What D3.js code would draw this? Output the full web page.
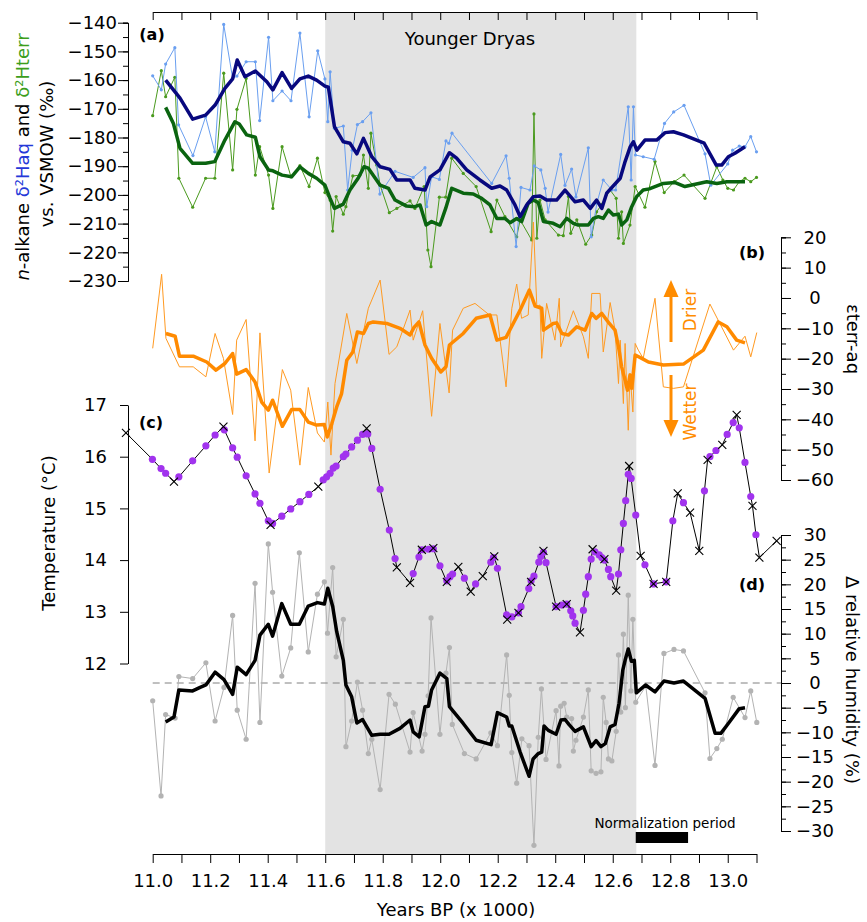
<!DOCTYPE html>
<meta charset="utf-8">
<style>
body { margin: 0; background: #fff; }
svg text { font-family: "DejaVu Sans", sans-serif; fill: #000; }
.tick text { font-size: 18px; }
.domain, .tick line { stroke: #000; stroke-width: 1; }
</style>
<svg width="867" height="922"></svg>
<script src="https://d3js.org/d3.v7.min.js"></script>
<script>

// ---- data: [year BP x1000, value] ----

// (a) n-alkane dD aquatic, raw and smoothed (permil)
var aqRaw = [[11.00,-158.5],[11.03,-163.4],[11.045,-154.4],[11.077,-148.7],[11.09,-175.6],[11.14,-186.3],[11.184,-172.8],[11.216,-185],[11.247,-140.6],[11.278,-159.4],[11.293,-158.6],[11.325,-153.6],[11.357,-153.6],[11.372,-174.1],[11.403,-145.1],[11.418,-167.2],[11.45,-163.8],[11.481,-167.2],[11.512,-143.6],[11.544,-172.8],[11.574,-149.8],[11.599,-159.6],[11.609,-174.5],[11.617,-157.1],[11.632,-176.8],[11.663,-176],[11.678,-198.3],[11.694,-184.4],[11.712,-175.5],[11.73,-174.5],[11.759,-171.4],[11.79,-199.7],[11.843,-191.8],[11.906,-193.9],[11.947,-190.5],[11.953,-204.1],[11.97,-193.7],[11.997,-194.6],[12.02,-181.2],[12.03,-182],[12.041,-178.5],[12.179,-196],[12.229,-186.4],[12.24,-194.2],[12.264,-218],[12.281,-197.4],[12.312,-198.3],[12.327,-189.9],[12.35,-191.3],[12.365,-197.7],[12.375,-206],[12.419,-185.9],[12.434,-196.7],[12.457,-191],[12.472,-200.7],[12.515,-183.6],[12.525,-214.6],[12.545,-202.8],[12.567,-194.8],[12.597,-198.3],[12.61,-198.3],[12.654,-169.3],[12.664,-194.8],[12.672,-169.3],[12.679,-186.1],[12.706,-186.7],[12.744,-187.6],[12.78,-175.1],[12.812,-171.1],[12.848,-168.8],[12.921,-185.7],[12.941,-196.6],[13.0,-189.2],[13.017,-184.4],[13.04,-183],[13.06,-183.2],[13.08,-179.7],[13.1,-185]];
var aqSmooth = [[11.045,-160],[11.095,-166.3],[11.139,-173.6],[11.184,-172.2],[11.217,-168.7],[11.251,-162.9],[11.278,-159.6],[11.294,-153],[11.321,-158.8],[11.357,-156.8],[11.397,-160.6],[11.418,-163.4],[11.45,-157.4],[11.483,-162.9],[11.512,-159.6],[11.541,-158.6],[11.57,-160],[11.599,-162.1],[11.611,-162.5],[11.632,-176.2],[11.663,-181.5],[11.686,-182],[11.71,-185.7],[11.733,-180.3],[11.762,-186.7],[11.791,-190.2],[11.825,-191.1],[11.849,-194.8],[11.895,-194.8],[11.912,-197.7],[11.947,-198.3],[11.965,-193.7],[11.999,-191.3],[12.032,-185.3],[12.057,-187.2],[12.092,-191.3],[12.138,-194.8],[12.179,-197.7],[12.208,-196.9],[12.231,-198.3],[12.26,-203.5],[12.278,-207.6],[12.301,-203.5],[12.324,-200.6],[12.347,-200.4],[12.37,-201.8],[12.405,-201.8],[12.434,-198.3],[12.469,-202.4],[12.498,-201.8],[12.522,-204.7],[12.544,-201.8],[12.562,-204.7],[12.579,-199.4],[12.626,-194.2],[12.643,-188.4],[12.661,-183.2],[12.672,-181.5],[12.684,-184.4],[12.712,-180.9],[12.753,-180.9],[12.782,-178.3],[12.811,-178],[12.846,-179.1],[12.918,-182],[12.96,-189.6],[12.979,-189.6],[13.002,-186.7],[13.025,-185.5],[13.06,-183.2]];

// (a) n-alkane dD terrestrial, raw and smoothed (permil)
var terrRaw = [[11.0,-172.4],[11.03,-156.7],[11.045,-165.8],[11.077,-159],[11.091,-194.2],[11.139,-204.3],[11.184,-194.2],[11.216,-194.2],[11.247,-157.6],[11.278,-191.3],[11.293,-170.2],[11.325,-159.4],[11.357,-193.1],[11.372,-183.2],[11.403,-193.1],[11.418,-204.7],[11.45,-183.2],[11.481,-193.7],[11.512,-189.8],[11.544,-197.1],[11.573,-187.2],[11.599,-199.2],[11.617,-201.8],[11.626,-212.6],[11.638,-200.6],[11.663,-206.7],[11.672,-204.1],[11.696,-193.4],[11.721,-193.1],[11.733,-186.1],[11.75,-197.7],[11.759,-178.5],[11.779,-189.6],[11.791,-196.6],[11.823,-206.2],[11.849,-204.7],[11.895,-202.1],[11.912,-204.7],[11.944,-197.1],[11.957,-219.2],[11.968,-225],[11.997,-200.8],[12.019,-200.8],[12.04,-187.2],[12.08,-192.5],[12.125,-197.1],[12.177,-212.8],[12.197,-201.8],[12.225,-207.6],[12.266,-214.6],[12.278,-208.7],[12.318,-215.7],[12.326,-171.8],[12.336,-215.1],[12.347,-201.8],[12.365,-208.7],[12.411,-214],[12.428,-214.2],[12.446,-200.6],[12.454,-213.4],[12.475,-208.7],[12.506,-217.2],[12.527,-214],[12.544,-205.9],[12.562,-203.3],[12.591,-198.3],[12.612,-201.2],[12.62,-215.1],[12.631,-205.9],[12.637,-216.9],[12.66,-210.5],[12.678,-197.1],[12.712,-204.3],[12.747,-188.4],[12.779,-199.2],[12.814,-195.4],[12.848,-193.1],[12.921,-201.2],[12.962,-190.2],[12.983,-194.8],[13.0,-197.7],[13.02,-198.3],[13.04,-195.4],[13.06,-194.2],[13.08,-195.4],[13.1,-193.9]];
var terrSmooth = [[11.045,-169.5],[11.072,-175.1],[11.095,-183.8],[11.139,-189],[11.184,-189],[11.216,-188.4],[11.251,-180.9],[11.286,-174.5],[11.301,-175.3],[11.327,-179.1],[11.357,-179.9],[11.373,-186.7],[11.403,-191.3],[11.418,-191.6],[11.45,-193.1],[11.483,-193.7],[11.512,-190.2],[11.541,-192.5],[11.57,-194.2],[11.599,-196.6],[11.617,-201.2],[11.632,-204.7],[11.663,-203.2],[11.686,-198.3],[11.715,-194.1],[11.735,-190.2],[11.75,-190.7],[11.791,-196.6],[11.82,-197.7],[11.843,-201.8],[11.883,-203.9],[11.912,-204.1],[11.93,-203.5],[11.951,-210.5],[11.97,-209.3],[11.999,-210.5],[12.019,-204.7],[12.04,-197.7],[12.08,-199.4],[12.115,-199.7],[12.144,-201.2],[12.173,-203.5],[12.197,-208.2],[12.225,-208.2],[12.243,-209.7],[12.266,-208.2],[12.283,-209.3],[12.306,-202.9],[12.324,-201.8],[12.341,-202.7],[12.359,-209.3],[12.393,-209.9],[12.417,-211.1],[12.44,-208.2],[12.463,-209.9],[12.48,-210.5],[12.515,-210.5],[12.533,-208.2],[12.55,-207.6],[12.567,-208.2],[12.585,-205.3],[12.602,-207],[12.62,-206.7],[12.631,-210.5],[12.649,-208.7],[12.666,-204.1],[12.683,-200.6],[12.706,-198.3],[12.727,-197.9],[12.776,-196],[12.817,-195.7],[12.851,-197.1],[12.927,-195.4],[12.962,-196],[12.997,-195.4],[13.031,-195.4],[13.06,-195.4]];

// (b) epsilon terr-aq, raw and smoothed (permil)
var epsRaw = [[11.0,-16.6],[11.031,7.8],[11.046,-13.3],[11.093,-22.7],[11.141,-22.7],[11.185,-26],[11.217,-11.7],[11.246,-19.9],[11.278,-38.4],[11.292,-13.9],[11.325,-7.1],[11.356,-47.1],[11.373,-11.5],[11.405,-57.7],[11.451,-23.6],[11.48,-30.4],[11.512,-55.1],[11.541,-29.5],[11.573,-44.5],[11.597,-47.5],[11.609,-34.3],[11.62,-51.8],[11.634,-28.2],[11.675,-5.1],[11.71,-21.6],[11.75,-3.4],[11.791,5.9],[11.822,-18.6],[11.849,-16.1],[11.895,-4],[11.906,-13.9],[11.939,-4.2],[11.97,-39],[11.999,-8.4],[12.031,-31.3],[12.043,-10.6],[12.08,-3.4],[12.121,-1.8],[12.171,-5.6],[12.197,-5.6],[12.229,-29.3],[12.249,-3.4],[12.266,4.6],[12.283,-6.7],[12.306,-5.6],[12.324,25],[12.336,-2.9],[12.347,-2.3],[12.353,-19.9],[12.37,-1.8],[12.399,-13.9],[12.414,-0.1],[12.419,-16.1],[12.463,-4.2],[12.498,-12.8],[12.515,-19.9],[12.527,1.5],[12.556,1.5],[12.567,-17.8],[12.591,-1.5],[12.608,-10.6],[12.62,-28.2],[12.626,-13.9],[12.637,-34.8],[12.643,-15],[12.654,-43.6],[12.66,-24.9],[12.67,-37.6],[12.678,-15],[12.689,-17.2],[12.706,-19.9],[12.747,-0.1],[12.776,-29.3],[12.811,-29.8],[12.846,-29.3],[12.938,-2],[13.02,-17.2],[13.06,-12.6],[13.08,-19.4],[13.101,-11.4]];
var epsSmooth = [[11.046,-11.7],[11.078,-12.6],[11.093,-19.2],[11.141,-19.2],[11.188,-21.1],[11.22,-23.8],[11.251,-21.6],[11.278,-18.3],[11.292,-25.1],[11.325,-23.6],[11.356,-27.7],[11.379,-34.3],[11.402,-37],[11.417,-33.7],[11.451,-42.3],[11.483,-36.8],[11.512,-36.8],[11.541,-40.9],[11.57,-41.9],[11.597,-41.7],[11.607,-45.8],[11.623,-41.4],[11.64,-35.9],[11.657,-31.5],[11.675,-20.5],[11.696,-17.8],[11.712,-11.2],[11.733,-11.7],[11.75,-8.4],[11.767,-7.9],[11.814,-8.4],[11.86,-10],[11.895,-12.2],[11.909,-9.7],[11.926,-7.9],[11.947,-15.5],[11.97,-19.9],[12.002,-24.4],[12.02,-22.7],[12.032,-15.5],[12.08,-11.7],[12.125,-6.7],[12.173,-5.6],[12.197,-13.9],[12.229,-13],[12.243,-10.4],[12.278,-4],[12.31,2.6],[12.33,-2.7],[12.353,-3.4],[12.359,-10.6],[12.393,-8.4],[12.405,-8.2],[12.423,-11.7],[12.446,-12.2],[12.475,-9.5],[12.504,-10.6],[12.527,-5.1],[12.542,-6.7],[12.562,-5.1],[12.588,-8.4],[12.608,-10.6],[12.62,-16.1],[12.631,-22.7],[12.643,-27.1],[12.651,-30.4],[12.66,-25.4],[12.666,-29.8],[12.678,-18.8],[12.701,-19.9],[12.724,-21.1],[12.776,-22.1],[12.846,-21.8],[12.915,-17.2],[12.967,-7.9],[12.997,-9.5],[13.031,-13.9],[13.06,-14.8]];

// (c) temperature (deg C): measured points (x) and interpolated points (dots)
var tempCross = [[10.907,16.46],[11.074,15.52],[11.246,16.58],[11.41,14.68],[11.576,15.42],[11.744,16.55],[11.849,13.86],[11.895,13.56],[11.936,14.2],[11.976,14.23],[12.023,13.58],[12.063,13.87],[12.106,13.39],[12.148,13.69],[12.188,14.07],[12.233,12.85],[12.272,12.98],[12.316,13.58],[12.359,14.18],[12.403,13.1],[12.44,13.15],[12.486,12.6],[12.53,14.21],[12.571,14.02],[12.612,13.41],[12.657,15.82],[12.697,14.08],[12.742,13.54],[12.786,13.58],[12.826,15.29],[12.869,14.92],[12.901,14.18],[12.93,15.94],[12.981,16.23],[13.031,16.81],[13.086,15.05],[13.11,14.05],[13.17,14.37]];
var tempDots = [[10.999,15.95],[11.029,15.77],[11.045,15.68],[11.091,15.61],[11.139,15.92],[11.185,16.21],[11.217,16.42],[11.249,16.52],[11.278,16.17],[11.294,15.99],[11.325,15.63],[11.356,15.28],[11.373,15.1],[11.402,14.76],[11.417,14.71],[11.449,14.85],[11.48,14.99],[11.512,15.13],[11.543,15.27],[11.593,15.55],[11.605,15.61],[11.617,15.68],[11.628,15.78],[11.638,15.82],[11.663,16.0],[11.672,16.05],[11.692,16.19],[11.712,16.32],[11.73,16.43],[11.748,16.44],[11.762,16.16],[11.791,15.37],[11.823,14.58],[11.843,14.03],[11.906,13.74],[11.926,14.06],[11.936,14.2],[11.959,14.21],[11.976,14.22],[11.999,13.89],[12.023,13.6],[12.034,13.68],[12.043,13.73],[12.084,13.65],[12.123,13.54],[12.176,13.96],[12.185,14.05],[12.199,13.84],[12.231,12.94],[12.249,12.9],[12.272,12.98],[12.281,13.1],[12.308,13.45],[12.316,13.6],[12.326,13.69],[12.343,13.96],[12.35,14.07],[12.359,14.15],[12.368,13.95],[12.403,13.1],[12.423,13.13],[12.44,13.15],[12.454,13.02],[12.461,12.92],[12.469,12.78],[12.498,13.03],[12.506,13.34],[12.515,13.68],[12.525,14.02],[12.538,14.16],[12.553,14.1],[12.562,14.05],[12.571,14.0],[12.585,13.82],[12.593,13.68],[12.62,13.73],[12.628,14.2],[12.637,14.71],[12.645,15.15],[12.654,15.66],[12.664,15.58],[12.68,14.87],[12.712,13.91],[12.742,13.54],[12.786,13.58],[12.809,14.76],[12.846,15.11],[12.919,15.34],[12.938,16.0],[12.959,16.12],[12.998,16.43],[13.019,16.66],[13.04,16.56],[13.06,15.89],[13.08,15.23],[13.098,14.49]];

// (d) delta relative humidity (%), raw and smoothed
var rhRaw = [[11.0,-3.6],[11.029,-22.9],[11.045,-6.4],[11.078,-7.1],[11.091,1.3],[11.139,0.9],[11.185,4.1],[11.217,-7.7],[11.248,-0.9],[11.278,13.7],[11.294,-5.5],[11.325,-11.4],[11.356,20.2],[11.373,-8],[11.402,28.2],[11.417,18.4],[11.449,1.4],[11.48,7.1],[11.51,26.4],[11.541,6.3],[11.573,18],[11.597,20.5],[11.608,10.1],[11.626,23.4],[11.638,5.3],[11.663,12.9],[11.672,-12.9],[11.692,-7.7],[11.712,0.2],[11.73,-5.5],[11.75,-14.3],[11.762,-11.4],[11.791,-21.6],[11.822,-2.3],[11.844,-4.3],[11.895,-14],[11.906,-6],[11.937,-13.8],[11.947,-10.4],[11.958,-2.6],[11.968,13.2],[11.999,-10.4],[12.02,2],[12.032,7.2],[12.042,-8.4],[12.084,-14.3],[12.125,-15.4],[12.176,-10.1],[12.199,-12.7],[12.231,5.7],[12.24,-2.5],[12.249,-14.1],[12.266,-20.3],[12.284,-11.3],[12.309,-12.7],[12.326,-32.9],[12.341,-11],[12.352,-1.2],[12.368,-15.5],[12.403,-5.6],[12.413,-16.8],[12.419,-4.7],[12.431,-4.1],[12.44,-6.9],[12.457,-7.2],[12.463,-13.8],[12.472,-11.6],[12.498,-6.9],[12.515,-1.4],[12.525,-17.8],[12.542,-18.3],[12.559,-18],[12.567,-2.9],[12.577,-8],[12.585,-15.4],[12.597,-15.8],[12.612,-9.8],[12.62,5.7],[12.628,-5.9],[12.637,9.9],[12.644,-5],[12.654,17.8],[12.663,-1.6],[12.67,12.9],[12.68,-3.9],[12.715,-0.6],[12.747,-16.7],[12.778,6],[12.813,6.8],[12.846,6.5],[12.921,-2],[12.938,-15.3],[12.962,-13.3],[12.981,-11.4],[13.019,-2.9],[13.06,-7],[13.08,-1.6],[13.101,-8]];
var rhSmooth = [[11.045,-7.9],[11.074,-6.9],[11.091,-1.4],[11.139,-1.6],[11.165,-0.9],[11.185,-0.4],[11.217,2.2],[11.248,0.7],[11.278,-2.3],[11.294,3.2],[11.325,1.7],[11.356,4.6],[11.373,9.7],[11.402,11.9],[11.417,9.5],[11.449,16.1],[11.48,11.9],[11.51,11.9],[11.541,15.6],[11.573,16.3],[11.597,16],[11.609,19.2],[11.626,15.5],[11.64,10.4],[11.663,4.6],[11.672,-0.4],[11.692,-2.8],[11.71,-8.1],[11.73,-7.4],[11.762,-10.6],[11.791,-10.4],[11.822,-10.4],[11.86,-9.2],[11.895,-7.5],[11.906,-9.9],[11.927,-10.9],[11.947,-4.8],[11.959,-4.7],[11.97,-1.4],[11.999,2],[12.023,0.9],[12.032,-4.8],[12.08,-8.2],[12.125,-11.6],[12.177,-12.5],[12.199,-6],[12.231,-6.9],[12.24,-8.7],[12.249,-8.7],[12.278,-14],[12.309,-18.9],[12.323,-15.4],[12.341,-14.3],[12.353,-14],[12.361,-8.7],[12.376,-9.6],[12.403,-10.4],[12.42,-7.5],[12.434,-7.4],[12.449,-8.5],[12.469,-9.8],[12.498,-8.9],[12.525,-12.9],[12.542,-11.7],[12.559,-12.9],[12.574,-12.3],[12.591,-8.9],[12.608,-8.4],[12.622,-4.1],[12.635,2.6],[12.643,4.6],[12.654,6.9],[12.665,4.4],[12.675,4.6],[12.682,-2],[12.714,-0.4],[12.747,-1.8],[12.778,0.4],[12.813,0],[12.846,0.4],[12.921,-3.1],[12.956,-10.2],[12.976,-10.2],[13.002,-8.2],[13.04,-5.2],[13.06,-5]];

// periods and ticks
var youngerDryas = [11.6, 12.682];
var normPeriod = [12.68, 12.862];
var yearTicks = d3.range(110, 132).map(function(d) { return d / 10; });

// ---- scales ----
var svg = d3.select("svg");

var x = d3.scaleLinear().domain([11, 13.1]).range([152.7, 756.5]),
    yA = d3.scaleLinear().domain([-230, -140]).range([281, 22.7]),
    yB = d3.scaleLinear().domain([-60, 20]).range([480, 237.3]),
    yC = d3.scaleLinear().domain([12, 17]).range([663.5, 405]),
    yD = d3.scaleLinear().domain([-30, 30]).range([831, 535]);

var axTop = 12, axBottom = 854, axLeft = 128, axRight = 781;

// Younger Dryas band
svg.append("rect")
    .attr("x", x(youngerDryas[0]))
    .attr("y", axTop)
    .attr("width", x(youngerDryas[1]) - x(youngerDryas[0]))
    .attr("height", axBottom - axTop)
    .attr("fill", "#e3e3e3");

svg.append("text")
    .attr("x", 470).attr("y", 45)
    .attr("text-anchor", "middle")
    .style("font-size", "18px")
    .text("Younger Dryas");

// zero line of panel d
svg.append("line")
    .attr("x1", x(11)).attr("x2", axRight)
    .attr("y1", yD(0)).attr("y2", yD(0))
    .attr("stroke", "#808080")
    .attr("stroke-dasharray", "7,5");

// ---- helpers ----
function drawLine(data, y, color, width) {
  svg.append("path")
      .datum(data)
      .attr("fill", "none")
      .attr("stroke", color)
      .attr("stroke-width", width)
      .attr("stroke-linejoin", "round")
      .attr("d", d3.line().x(function(d) { return x(d[0]); }).y(function(d) { return y(d[1]); }));
}

function drawDots(data, y, color, r) {
  svg.append("g").selectAll("circle")
    .data(data)
    .enter().append("circle")
      .attr("cx", function(d) { return x(d[0]); })
      .attr("cy", function(d) { return y(d[1]); })
      .attr("r", r)
      .attr("fill", color);
}

// panel a
drawLine(terrRaw, yA, "#4a9a1e", 1);
drawDots(terrRaw, yA, "#4a9a1e", 1.6);
drawLine(aqRaw, yA, "#6a9ff0", 1);
drawDots(aqRaw, yA, "#6a9ff0", 1.6);
drawLine(terrSmooth, yA, "#0a6410", 3.5);
drawLine(aqSmooth, yA, "#08087e", 3.5);

// panel b
drawLine(epsRaw, yB, "#ff9a22", 1);
drawLine(epsSmooth, yB, "#ff8a00", 3.5);

// panel d
drawLine(rhRaw, yD, "#b3b3b3", 1);
drawDots(rhRaw, yD, "#b3b3b3", 2.6);
drawLine(rhSmooth, yD, "#000", 3.5);

// panel c
var tempAll = tempCross.concat(tempDots).sort(function(a, b) { return a[0] - b[0]; });
drawLine(tempAll, yC, "#000", 1);
drawDots(tempDots, yC, "#a133ee", 3.6);
svg.append("g").selectAll("path")
  .data(tempCross)
  .enter().append("path")
    .attr("transform", function(d) { return "translate(" + x(d[0]) + "," + yC(d[1]) + ")"; })
    .attr("d", "M-4,-4L4,4M-4,4L4,-4")
    .attr("stroke", "#000")
    .attr("stroke-width", 1.1);

// ---- axes ----
// top and bottom year axes
svg.append("g")
    .attr("transform", "translate(0," + axTop + ")")
    .call(d3.axisTop(x).tickValues(yearTicks).tickSizeInner(-8).tickSizeOuter(0).tickFormat(""));

svg.append("g")
    .attr("transform", "translate(0," + axBottom + ")")
    .call(d3.axisBottom(x).tickValues(yearTicks).tickSizeInner(9).tickSizeOuter(0).tickPadding(11)
      .tickFormat(function(d) { return Math.round(d * 10) % 2 === 0 ? d3.format(".1f")(d) : ""; }));

svg.append("text")
    .attr("x", 456).attr("y", 916)
    .attr("text-anchor", "middle")
    .style("font-size", "18px")
    .text("Years BP (x 1000)");

// panel a, left
svg.append("g")
    .attr("transform", "translate(" + axLeft + ",0)")
    .call(d3.axisLeft(yA).tickValues(d3.range(-230, -139, 5)).tickSize(5).tickFormat(""));
svg.append("g")
    .attr("transform", "translate(" + axLeft + ",0)")
    .call(d3.axisLeft(yA).tickValues(d3.range(-230, -139, 10)).tickSize(10).tickSizeOuter(0).tickPadding(1));

// panel b, right
svg.append("g")
    .attr("transform", "translate(" + axRight + ",0)")
    .call(d3.axisRight(yB).tickValues(d3.range(-60, 21, 5)).tickSize(5).tickFormat(""));
svg.append("g")
    .attr("transform", "translate(" + axRight + ",0)")
    .call(d3.axisRight(yB).tickValues(d3.range(-60, 21, 10)).tickSize(10).tickSizeOuter(0))
  .selectAll(".tick text")
    .attr("x", 34).attr("text-anchor", "middle");

// panel c, left
svg.append("g")
    .attr("transform", "translate(" + axLeft + ",0)")
    .call(d3.axisLeft(yC).tickValues(d3.range(12, 18, 1)).tickSize(8).tickSizeOuter(0).tickPadding(13)
      .tickFormat(d3.format("d")));

// panel d, right
svg.append("g")
    .attr("transform", "translate(" + axRight + ",0)")
    .call(d3.axisRight(yD).tickValues(d3.range(-30, 30.1, 2.5)).tickSize(5).tickFormat(""));
svg.append("g")
    .attr("transform", "translate(" + axRight + ",0)")
    .call(d3.axisRight(yD).tickValues(d3.range(-30, 31, 5)).tickSize(10).tickSizeOuter(0))
  .selectAll(".tick text")
    .attr("x", 34).attr("text-anchor", "middle");

// ---- axis titles ----
var t1 = svg.append("text")
    .attr("transform", "translate(29,157) rotate(-90)")
    .attr("text-anchor", "middle")
    .style("font-size", "18px");
t1.append("tspan").style("font-style", "italic").text("n");
t1.append("tspan").text("-alkane ");
t1.append("tspan").style("fill", "#2438d8").text("δ²Haq");
t1.append("tspan").text(" and ");
t1.append("tspan").style("fill", "#3c9e1c").text("δ²Hterr");

svg.append("text")
    .attr("transform", "translate(53,154) rotate(-90)")
    .attr("text-anchor", "middle")
    .style("font-size", "18px")
    .text("vs. VSMOW (‰)");

svg.append("text")
    .attr("transform", "translate(847,339) rotate(90)")
    .attr("text-anchor", "middle")
    .style("font-size", "18px")
    .text("εterr-aq");

svg.append("text")
    .attr("transform", "translate(55,533) rotate(-90)")
    .attr("text-anchor", "middle")
    .style("font-size", "18px")
    .text("Temperature (°C)");

svg.append("text")
    .attr("transform", "translate(846,680) rotate(90)")
    .attr("text-anchor", "middle")
    .style("font-size", "18px")
    .text("Δ relative humidity (%)");

// panel letters
[["(a)", 152, 40], ["(b)", 752, 258], ["(c)", 151, 428], ["(d)", 752, 590]].forEach(function(p) {
  svg.append("text")
      .attr("x", p[1]).attr("y", p[2])
      .attr("text-anchor", "middle")
      .style("font-size", "16px")
      .style("font-weight", "bold")
      .text(p[0]);
});

// drier / wetter arrows
var orange = "#ff8c00";
svg.append("line").attr("x1", 671).attr("x2", 671).attr("y1", 342).attr("y2", 294)
    .attr("stroke", orange).attr("stroke-width", 3);
svg.append("path").attr("d", "M671,280L663.5,297L678.5,297Z").attr("fill", orange);
svg.append("line").attr("x1", 671).attr("x2", 671).attr("y1", 375).attr("y2", 423)
    .attr("stroke", orange).attr("stroke-width", 3);
svg.append("path").attr("d", "M671,437L663.5,420L678.5,420Z").attr("fill", orange);

svg.append("text")
    .attr("transform", "translate(696,310) rotate(-90)")
    .attr("text-anchor", "middle")
    .style("font-size", "17px").style("fill", orange)
    .text("Drier");
svg.append("text")
    .attr("transform", "translate(696,412) rotate(-90)")
    .attr("text-anchor", "middle")
    .style("font-size", "17px").style("fill", orange)
    .text("Wetter");

// normalization period
svg.append("text")
    .attr("x", 665).attr("y", 828)
    .attr("text-anchor", "middle")
    .style("font-size", "13.5px")
    .text("Normalization period");
svg.append("rect")
    .attr("x", x(normPeriod[0])).attr("y", 832)
    .attr("width", x(normPeriod[1]) - x(normPeriod[0])).attr("height", 11)
    .attr("fill", "#000");

</script>
